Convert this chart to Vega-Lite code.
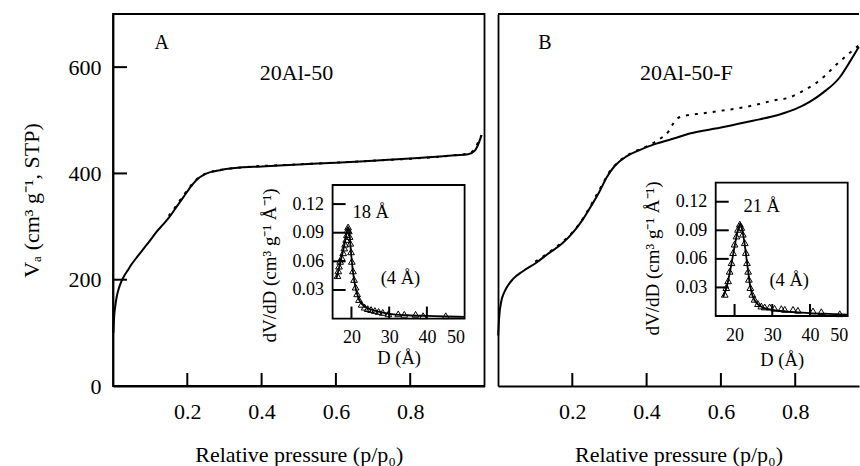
{
  "$schema": "https://vega.github.io/schema/vega-lite/v6.json",
  "padding": {"left": 19, "top": 13, "right": 0, "bottom": 0},
  "spacing": 7,
  "config": {
    "font": "Liberation Serif",
    "view": {"stroke": "black", "strokeWidth": 1.8},
    "scale": {"continuousPadding": 0},
    "axis": {
      "grid": false, "ticks": false, "domainColor": "black", "domainWidth": 1.8,
      "labelColor": "black", "titleColor": "black", "labelFont": "Liberation Serif", "titleFont": "Liberation Serif",
      "titleFontWeight": "normal", "labelFontSize": 22, "titleFontSize": 22
    },
    "text": {"font": "Liberation Serif", "color": "black"}
  },
  "datasets": {
    "isoA_ads": [
      {"p": 0.001, "V": 100}, {"p": 0.003, "V": 130}, {"p": 0.006, "V": 150}, {"p": 0.010, "V": 168},
      {"p": 0.015, "V": 182}, {"p": 0.022, "V": 196}, {"p": 0.030, "V": 207}, {"p": 0.040, "V": 218},
      {"p": 0.050, "V": 229}, {"p": 0.065, "V": 243}, {"p": 0.082, "V": 258}, {"p": 0.100, "V": 274},
      {"p": 0.117, "V": 290}, {"p": 0.135, "V": 304}, {"p": 0.153, "V": 319}, {"p": 0.170, "V": 336},
      {"p": 0.189, "V": 355}, {"p": 0.205, "V": 371}, {"p": 0.216, "V": 381}, {"p": 0.230, "V": 391},
      {"p": 0.243, "V": 397}, {"p": 0.260, "V": 402}, {"p": 0.279, "V": 405}, {"p": 0.310, "V": 409},
      {"p": 0.342, "V": 411}, {"p": 0.400, "V": 413}, {"p": 0.500, "V": 417}, {"p": 0.600, "V": 420},
      {"p": 0.700, "V": 424}, {"p": 0.800, "V": 428}, {"p": 0.860, "V": 431}, {"p": 0.920, "V": 434},
      {"p": 0.956, "V": 436}, {"p": 0.974, "V": 443}, {"p": 0.985, "V": 458}, {"p": 0.992, "V": 472}
    ],
    "isoA_des": [
      {"p": 0.150, "V": 320}, {"p": 0.170, "V": 339}, {"p": 0.189, "V": 358}, {"p": 0.205, "V": 373},
      {"p": 0.230, "V": 392}, {"p": 0.260, "V": 402}, {"p": 0.342, "V": 411}, {"p": 0.500, "V": 417},
      {"p": 0.700, "V": 424}, {"p": 0.900, "V": 433}, {"p": 0.960, "V": 438}, {"p": 0.975, "V": 448},
      {"p": 0.985, "V": 462}, {"p": 0.992, "V": 472}
    ],
    "isoB_ads": [
      {"p": 0.0005, "V": 95}, {"p": 0.003, "V": 128}, {"p": 0.009, "V": 160}, {"p": 0.016, "V": 175},
      {"p": 0.023, "V": 185}, {"p": 0.040, "V": 201}, {"p": 0.067, "V": 216}, {"p": 0.103, "V": 232},
      {"p": 0.139, "V": 251}, {"p": 0.171, "V": 267}, {"p": 0.202, "V": 289}, {"p": 0.229, "V": 314},
      {"p": 0.251, "V": 339}, {"p": 0.274, "V": 367}, {"p": 0.292, "V": 392}, {"p": 0.314, "V": 414},
      {"p": 0.346, "V": 432}, {"p": 0.381, "V": 444}, {"p": 0.426, "V": 456}, {"p": 0.480, "V": 467},
      {"p": 0.516, "V": 475}, {"p": 0.597, "V": 486}, {"p": 0.686, "V": 499}, {"p": 0.758, "V": 511},
      {"p": 0.800, "V": 521}, {"p": 0.840, "V": 535}, {"p": 0.875, "V": 552}, {"p": 0.920, "V": 581},
      {"p": 0.946, "V": 609}, {"p": 0.971, "V": 638}
    ],
    "isoB_des": [
      {"p": 0.100, "V": 234}, {"p": 0.140, "V": 253}, {"p": 0.170, "V": 269}, {"p": 0.200, "V": 289},
      {"p": 0.220, "V": 306}, {"p": 0.240, "V": 328}, {"p": 0.260, "V": 353}, {"p": 0.280, "V": 378},
      {"p": 0.300, "V": 403}, {"p": 0.320, "V": 419}, {"p": 0.350, "V": 435}, {"p": 0.380, "V": 445},
      {"p": 0.400, "V": 451}, {"p": 0.420, "V": 458}, {"p": 0.440, "V": 467}, {"p": 0.460, "V": 480},
      {"p": 0.470, "V": 492}, {"p": 0.480, "V": 502}, {"p": 0.500, "V": 508}, {"p": 0.550, "V": 513},
      {"p": 0.600, "V": 518}, {"p": 0.650, "V": 523}, {"p": 0.700, "V": 530}, {"p": 0.740, "V": 537},
      {"p": 0.785, "V": 543}, {"p": 0.820, "V": 555}, {"p": 0.852, "V": 568}, {"p": 0.879, "V": 583},
      {"p": 0.911, "V": 605}, {"p": 0.942, "V": 624}, {"p": 0.971, "V": 641}
    ],
    "psdA_pts": [
      {"D": 16.3, "v": 0.045}, {"D": 16.5, "v": 0.050}, {"D": 16.7, "v": 0.055}, {"D": 17.0, "v": 0.060},
      {"D": 17.4, "v": 0.064}, {"D": 17.8, "v": 0.069}, {"D": 18.1, "v": 0.074}, {"D": 18.3, "v": 0.078},
      {"D": 18.6, "v": 0.083}, {"D": 18.8, "v": 0.088}, {"D": 19.0, "v": 0.093}, {"D": 19.1, "v": 0.096},
      {"D": 19.3, "v": 0.092}, {"D": 19.5, "v": 0.086}, {"D": 19.7, "v": 0.079}, {"D": 19.9, "v": 0.070},
      {"D": 20.1, "v": 0.060}, {"D": 20.4, "v": 0.050}, {"D": 20.7, "v": 0.041}, {"D": 21.1, "v": 0.033},
      {"D": 21.5, "v": 0.026}, {"D": 22.0, "v": 0.020}, {"D": 22.7, "v": 0.015}, {"D": 23.5, "v": 0.012},
      {"D": 24.3, "v": 0.0105}, {"D": 25.2, "v": 0.0095}, {"D": 26.2, "v": 0.0085}, {"D": 27.2, "v": 0.0075},
      {"D": 28.3, "v": 0.0065}, {"D": 29.8, "v": 0.005}, {"D": 32.4, "v": 0.005}, {"D": 34.0, "v": 0.0045},
      {"D": 37.0, "v": 0.0045}, {"D": 39.0, "v": 0.003}, {"D": 45.0, "v": 0.003}
    ],
    "psdA_fit": [
      {"D": 16.0, "v": 0.042}, {"D": 17.0, "v": 0.058}, {"D": 18.0, "v": 0.075}, {"D": 18.7, "v": 0.089},
      {"D": 19.1, "v": 0.096}, {"D": 19.5, "v": 0.087}, {"D": 20.0, "v": 0.064}, {"D": 20.5, "v": 0.046},
      {"D": 21.0, "v": 0.034}, {"D": 21.5, "v": 0.026}, {"D": 22.0, "v": 0.020}, {"D": 23.0, "v": 0.0145},
      {"D": 24.0, "v": 0.0115}, {"D": 26.0, "v": 0.0085}, {"D": 28.0, "v": 0.0065}, {"D": 30.0, "v": 0.005},
      {"D": 35.0, "v": 0.0035}, {"D": 40.0, "v": 0.0028}, {"D": 45.0, "v": 0.0022}, {"D": 50.0, "v": 0.0018}
    ],
    "psdB_pts": [
      {"D": 17.4, "v": 0.0228}, {"D": 17.8, "v": 0.0298}, {"D": 18.3, "v": 0.037}, {"D": 18.7, "v": 0.047},
      {"D": 19.2, "v": 0.056}, {"D": 19.6, "v": 0.0666}, {"D": 20.0, "v": 0.0755}, {"D": 20.5, "v": 0.084},
      {"D": 20.9, "v": 0.091}, {"D": 21.4, "v": 0.0965}, {"D": 21.8, "v": 0.093}, {"D": 22.2, "v": 0.086},
      {"D": 22.7, "v": 0.077}, {"D": 23.0, "v": 0.0667}, {"D": 23.3, "v": 0.056}, {"D": 23.6, "v": 0.047},
      {"D": 23.8, "v": 0.0386}, {"D": 24.2, "v": 0.0298}, {"D": 24.7, "v": 0.0228}, {"D": 25.3, "v": 0.0176},
      {"D": 26.2, "v": 0.013}, {"D": 27.1, "v": 0.0105}, {"D": 28.0, "v": 0.0095}, {"D": 29.3, "v": 0.0095},
      {"D": 30.6, "v": 0.0081}, {"D": 32.4, "v": 0.0077}, {"D": 33.3, "v": 0.007}, {"D": 35.5, "v": 0.007},
      {"D": 36.8, "v": 0.006}, {"D": 40.8, "v": 0.0053}, {"D": 43.0, "v": 0.0045}, {"D": 47.9, "v": 0.0024}
    ],
    "psdB_fit": [
      {"D": 17.0, "v": 0.020}, {"D": 18.0, "v": 0.032}, {"D": 19.0, "v": 0.051}, {"D": 20.0, "v": 0.073},
      {"D": 21.0, "v": 0.092}, {"D": 21.5, "v": 0.097}, {"D": 22.0, "v": 0.091}, {"D": 22.5, "v": 0.080},
      {"D": 23.0, "v": 0.066}, {"D": 23.5, "v": 0.050}, {"D": 24.0, "v": 0.035}, {"D": 24.5, "v": 0.025},
      {"D": 25.0, "v": 0.019}, {"D": 26.0, "v": 0.013}, {"D": 27.0, "v": 0.010}, {"D": 28.0, "v": 0.008},
      {"D": 30.0, "v": 0.0065}, {"D": 33.0, "v": 0.005}, {"D": 36.0, "v": 0.004}, {"D": 40.0, "v": 0.003},
      {"D": 45.0, "v": 0.0022}, {"D": 50.0, "v": 0.0015}
    ],
    "ticks_p": [{"p": 0.2}, {"p": 0.4}, {"p": 0.6}, {"p": 0.8}],
    "ticks_V": [{"V": 200}, {"V": 400}, {"V": 600}],
    "ticks_D": [{"D": 20}, {"D": 30}, {"D": 40}],
    "ticks_v": [{"v": 0.03}, {"v": 0.06}, {"v": 0.09}, {"v": 0.12}]
  },
  "hconcat": [
    {
      "width": 371.5,
      "height": 372,
      "layer": [
        {
          "layer": [
            {
              "data": {"name": "isoA_des"},
              "mark": {"type": "line", "color": "black", "strokeWidth": 2, "strokeDash": [3, 6], "interpolate": "monotone"},
              "encoding": {
                "x": {"field": "p", "type": "quantitative", "scale": {"domain": [0, 1], "nice": false, "zero": false, "padding": 0},
                  "axis": {"orient": "bottom", "values": [0.2, 0.4, 0.6, 0.8], "format": ".1f", "labelPadding": 15,
                    "title": "Relative pressure (p/p₀)", "titlePadding": 22}},
                "y": {"field": "V", "type": "quantitative", "scale": {"domain": [0, 700], "nice": false, "padding": 0},
                  "axis": {"orient": "left", "values": [0, 200, 400, 600], "labelPadding": 12,
                    "title": "Vₐ (cm³ g⁻¹, STP)", "titlePadding": 25}}
              }
            },
            {
              "data": {"name": "isoA_ads"},
              "mark": {"type": "line", "color": "black", "strokeWidth": 2, "interpolate": "monotone"},
              "encoding": {
                "x": {"field": "p", "type": "quantitative", "axis": null},
                "y": {"field": "V", "type": "quantitative", "axis": null}
              }
            },
            {
              "data": {"name": "ticks_p"},
              "mark": {"type": "bar", "color": "black", "size": 2},
              "encoding": {
                "x": {"field": "p", "type": "quantitative", "axis": null},
                "y": {"datum": 0, "type": "quantitative", "axis": null},
                "y2": {"datum": 24.5}
              }
            },
            {
              "data": {"name": "ticks_V"},
              "mark": {"type": "bar", "color": "black", "size": 2},
              "encoding": {
                "y": {"field": "V", "type": "quantitative", "axis": null},
                "x": {"datum": 0, "type": "quantitative", "axis": null},
                "x2": {"datum": 0.0377}
              }
            },
            {
              "data": {"values": [{}]},
              "mark": {"type": "text", "fontSize": 20, "align": "center", "baseline": "middle"},
              "encoding": {"x": {"datum": 0.131, "type": "quantitative", "axis": null}, "y": {"datum": 646, "type": "quantitative", "axis": null}, "text": {"value": "A"}}
            },
            {
              "data": {"values": [{}]},
              "mark": {"type": "text", "fontSize": 22, "align": "center", "baseline": "middle"},
              "encoding": {"x": {"datum": 0.494, "type": "quantitative", "axis": null}, "y": {"datum": 589, "type": "quantitative", "axis": null}, "text": {"value": "20Al-50"}}
            }
          ],
          "resolve": {"axis": {"x": "independent", "y": "independent"}}
        },
        {
          "layer": [
            {
              "data": {"values": [{}]},
              "mark": {"type": "rect", "fill": "white", "fillOpacity": 0, "stroke": "black", "strokeWidth": 1.8},
              "encoding": {
                "x": {"datum": 15, "type": "quantitative", "scale": {"domain": [15, 50], "range": [219.6, 351.6], "nice": false, "zero": false, "padding": 0},
                  "axis": {"orient": "bottom", "offset": -67.4, "values": [20, 30, 40, 50], "labelPadding": 10,
                    "labelFontSize": 18, "title": "D (Å)", "titleFontSize": 18.5, "titlePadding": 2, "domain": false}},
                "x2": {"datum": 50},
                "y": {"datum": 0, "type": "quantitative", "scale": {"domain": [0, 0.14], "range": [304.6, 171], "nice": false, "zero": false, "padding": 0},
                  "axis": {"orient": "left", "offset": -219.6, "values": [0.03, 0.06, 0.09, 0.12], "format": ".2f", "labelPadding": 9,
                    "labelFontSize": 18, "title": "dV/dD (cm³ g⁻¹ Å⁻¹)", "titleFontSize": 19, "titlePadding": 13, "titleY": 251, "domain": false}},
                "y2": {"datum": 0.14}
              }
            },
            {
              "data": {"name": "ticks_D"},
              "mark": {"type": "bar", "color": "black", "size": 2},
              "encoding": {
                "x": {"field": "D", "type": "quantitative", "axis": null},
                "y": {"datum": 0, "type": "quantitative", "axis": null},
                "y2": {"datum": 0.0126}
              }
            },
            {
              "data": {"name": "ticks_v"},
              "mark": {"type": "bar", "color": "black", "size": 2},
              "encoding": {
                "y": {"field": "v", "type": "quantitative", "axis": null},
                "x": {"datum": 15, "type": "quantitative", "axis": null},
                "x2": {"datum": 18.45}
              }
            },
            {
              "data": {"name": "psdA_fit"},
              "mark": {"type": "line", "color": "black", "strokeWidth": 1.8, "interpolate": "monotone"},
              "encoding": {"x": {"field": "D", "type": "quantitative", "axis": null}, "y": {"field": "v", "type": "quantitative", "axis": null}}
            },
            {
              "data": {"name": "psdA_pts"},
              "mark": {"type": "point", "shape": "triangle-up", "filled": false, "color": "black", "size": 45, "strokeWidth": 1, "opacity": 1},
              "encoding": {"x": {"field": "D", "type": "quantitative", "axis": null}, "y": {"field": "v", "type": "quantitative", "axis": null}}
            },
            {
              "data": {"values": [{}]},
              "mark": {"type": "text", "fontSize": 18.5, "align": "center", "baseline": "middle"},
              "encoding": {"x": {"datum": 25.1, "type": "quantitative", "axis": null}, "y": {"datum": 0.112, "type": "quantitative", "axis": null}, "text": {"value": "18 Å"}}
            },
            {
              "data": {"values": [{}]},
              "mark": {"type": "text", "fontSize": 18.5, "align": "center", "baseline": "middle"},
              "encoding": {"x": {"datum": 33, "type": "quantitative", "axis": null}, "y": {"datum": 0.043, "type": "quantitative", "axis": null}, "text": {"value": "(4 Å)"}}
            }
          ],
          "resolve": {"axis": {"x": "independent", "y": "independent"}}
        }
      ],
      "resolve": {"scale": {"x": "independent", "y": "independent"}, "axis": {"x": "independent", "y": "independent"}}
    },
    {
      "width": 361,
      "height": 372,
      "view": {"stroke": null},
      "layer": [
        {
          "layer": [
            {
              "data": {"name": "isoB_des"},
              "mark": {"type": "line", "color": "black", "strokeWidth": 2, "strokeDash": [3, 6], "interpolate": "monotone"},
              "encoding": {
                "x": {"field": "p", "type": "quantitative", "scale": {"domain": [0, 0.9717], "nice": false, "zero": false, "padding": 0},
                  "axis": {"orient": "bottom", "values": [0.2, 0.4, 0.6, 0.8], "format": ".1f", "labelPadding": 15,
                    "title": "Relative pressure (p/p₀)", "titlePadding": 22}},
                "y": {"field": "V", "type": "quantitative", "scale": {"domain": [0, 700], "nice": false, "padding": 0},
                  "axis": {"orient": "left", "labels": false, "title": null, "domain": true}}
              }
            },
            {
              "data": {"name": "isoB_ads"},
              "mark": {"type": "line", "color": "black", "strokeWidth": 2, "interpolate": "monotone"},
              "encoding": {
                "x": {"field": "p", "type": "quantitative", "axis": null},
                "y": {"field": "V", "type": "quantitative", "axis": null}
              }
            },
            {
              "data": {"name": "ticks_p"},
              "mark": {"type": "bar", "color": "black", "size": 2},
              "encoding": {
                "x": {"field": "p", "type": "quantitative", "axis": null},
                "y": {"datum": 0, "type": "quantitative", "axis": null},
                "y2": {"datum": 24.5}
              }
            },
            {
              "data": {"values": [{}]},
              "mark": {"type": "rule", "color": "black", "strokeWidth": 1.8},
              "encoding": {"y": {"datum": 700, "type": "quantitative", "axis": null}}
            },
            {
              "data": {"values": [{}]},
              "mark": {"type": "text", "fontSize": 20, "align": "center", "baseline": "middle"},
              "encoding": {"x": {"datum": 0.126, "type": "quantitative", "axis": null}, "y": {"datum": 646, "type": "quantitative", "axis": null}, "text": {"value": "B"}}
            },
            {
              "data": {"values": [{}]},
              "mark": {"type": "text", "fontSize": 22, "align": "center", "baseline": "middle"},
              "encoding": {"x": {"datum": 0.507, "type": "quantitative", "axis": null}, "y": {"datum": 589, "type": "quantitative", "axis": null}, "text": {"value": "20Al-50-F"}}
            }
          ],
          "resolve": {"axis": {"x": "independent", "y": "independent"}}
        },
        {
          "layer": [
            {
              "data": {"values": [{}]},
              "mark": {"type": "rect", "fill": "white", "fillOpacity": 0, "stroke": "black", "strokeWidth": 1.8},
              "encoding": {
                "x": {"datum": 15, "type": "quantitative", "scale": {"domain": [15, 50], "range": [217.7, 349.7], "nice": false, "zero": false, "padding": 0},
                  "axis": {"orient": "bottom", "offset": -70, "values": [20, 30, 40, 50], "labelPadding": 10,
                    "labelFontSize": 18, "title": "D (Å)", "titleFontSize": 18.5, "titlePadding": 6, "domain": false}},
                "x2": {"datum": 50},
                "y": {"datum": 0, "type": "quantitative", "scale": {"domain": [0, 0.14], "range": [302, 168.7], "nice": false, "zero": false, "padding": 0},
                  "axis": {"orient": "left", "offset": -217.7, "values": [0.03, 0.06, 0.09, 0.12], "format": ".2f", "labelPadding": 9,
                    "labelFontSize": 18, "title": "dV/dD (cm³ g⁻¹ Å⁻¹)", "titleFontSize": 19, "titlePadding": 13, "titleY": 244, "domain": false}},
                "y2": {"datum": 0.14}
              }
            },
            {
              "data": {"name": "ticks_D"},
              "mark": {"type": "bar", "color": "black", "size": 2},
              "encoding": {
                "x": {"field": "D", "type": "quantitative", "axis": null},
                "y": {"datum": 0, "type": "quantitative", "axis": null},
                "y2": {"datum": 0.0126}
              }
            },
            {
              "data": {"name": "ticks_v"},
              "mark": {"type": "bar", "color": "black", "size": 2},
              "encoding": {
                "y": {"field": "v", "type": "quantitative", "axis": null},
                "x": {"datum": 15, "type": "quantitative", "axis": null},
                "x2": {"datum": 18.45}
              }
            },
            {
              "data": {"name": "psdB_fit"},
              "mark": {"type": "line", "color": "black", "strokeWidth": 1.8, "interpolate": "monotone"},
              "encoding": {"x": {"field": "D", "type": "quantitative", "axis": null}, "y": {"field": "v", "type": "quantitative", "axis": null}}
            },
            {
              "data": {"name": "psdB_pts"},
              "mark": {"type": "point", "shape": "triangle-up", "filled": false, "color": "black", "size": 45, "strokeWidth": 1, "opacity": 1},
              "encoding": {"x": {"field": "D", "type": "quantitative", "axis": null}, "y": {"field": "v", "type": "quantitative", "axis": null}}
            },
            {
              "data": {"values": [{}]},
              "mark": {"type": "text", "fontSize": 18.5, "align": "center", "baseline": "middle"},
              "encoding": {"x": {"datum": 27.2, "type": "quantitative", "axis": null}, "y": {"datum": 0.116, "type": "quantitative", "axis": null}, "text": {"value": "21 Å"}}
            },
            {
              "data": {"values": [{}]},
              "mark": {"type": "text", "fontSize": 18.5, "align": "center", "baseline": "middle"},
              "encoding": {"x": {"datum": 34.5, "type": "quantitative", "axis": null}, "y": {"datum": 0.0374, "type": "quantitative", "axis": null}, "text": {"value": "(4 Å)"}}
            }
          ],
          "resolve": {"axis": {"x": "independent", "y": "independent"}}
        }
      ],
      "resolve": {"scale": {"x": "independent", "y": "independent"}, "axis": {"x": "independent", "y": "independent"}}
    }
  ]
}
